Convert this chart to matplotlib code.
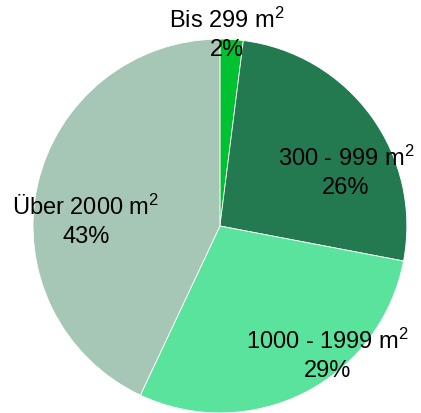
import matplotlib
matplotlib.use('Agg')
import matplotlib.pyplot as plt

plt.rcParams['font.family'] = ['Liberation Sans', 'DejaVu Sans']
plt.rcParams['mathtext.fontset'] = 'custom'
plt.rcParams['mathtext.rm'] = 'Liberation Sans'
plt.rcParams['mathtext.it'] = 'Liberation Sans'

categories = ['Bis 299 m$^2$', '300 - 999 m$^2$', '1000 - 1999 m$^2$', 'Über 2000 m$^2$']
shares = [2, 26, 29, 43]
colors = ['#00c12f', '#237a50', '#5ae39c', '#a6c7b5']
# label anchor positions (relative to pie radius), picked by eye
label_pos = [(0.037, 1.027), (0.674, 0.286), (0.578, -0.69), (-0.717, 0.024)]

fig = plt.figure(figsize=(4.21, 4.13), dpi=100)
ax = fig.add_axes([0.0784, 0.0, 0.888, 0.9056])
ax.pie(shares, colors=colors, startangle=90, counterclock=False,
       wedgeprops=dict(edgecolor='white', linewidth=0.6))
ax.set_xlim(-1, 1)
ax.set_ylim(-1, 1)
ax.set_aspect('equal')
ax.axis('off')

for cat, val, (x, y) in zip(categories, shares, label_pos):
    ax.text(x, y, f'{cat}\n{val}%', ha='center', va='center',
            fontsize=17, linespacing=1.35, clip_on=False)

fig.savefig('out.png', dpi=100)
